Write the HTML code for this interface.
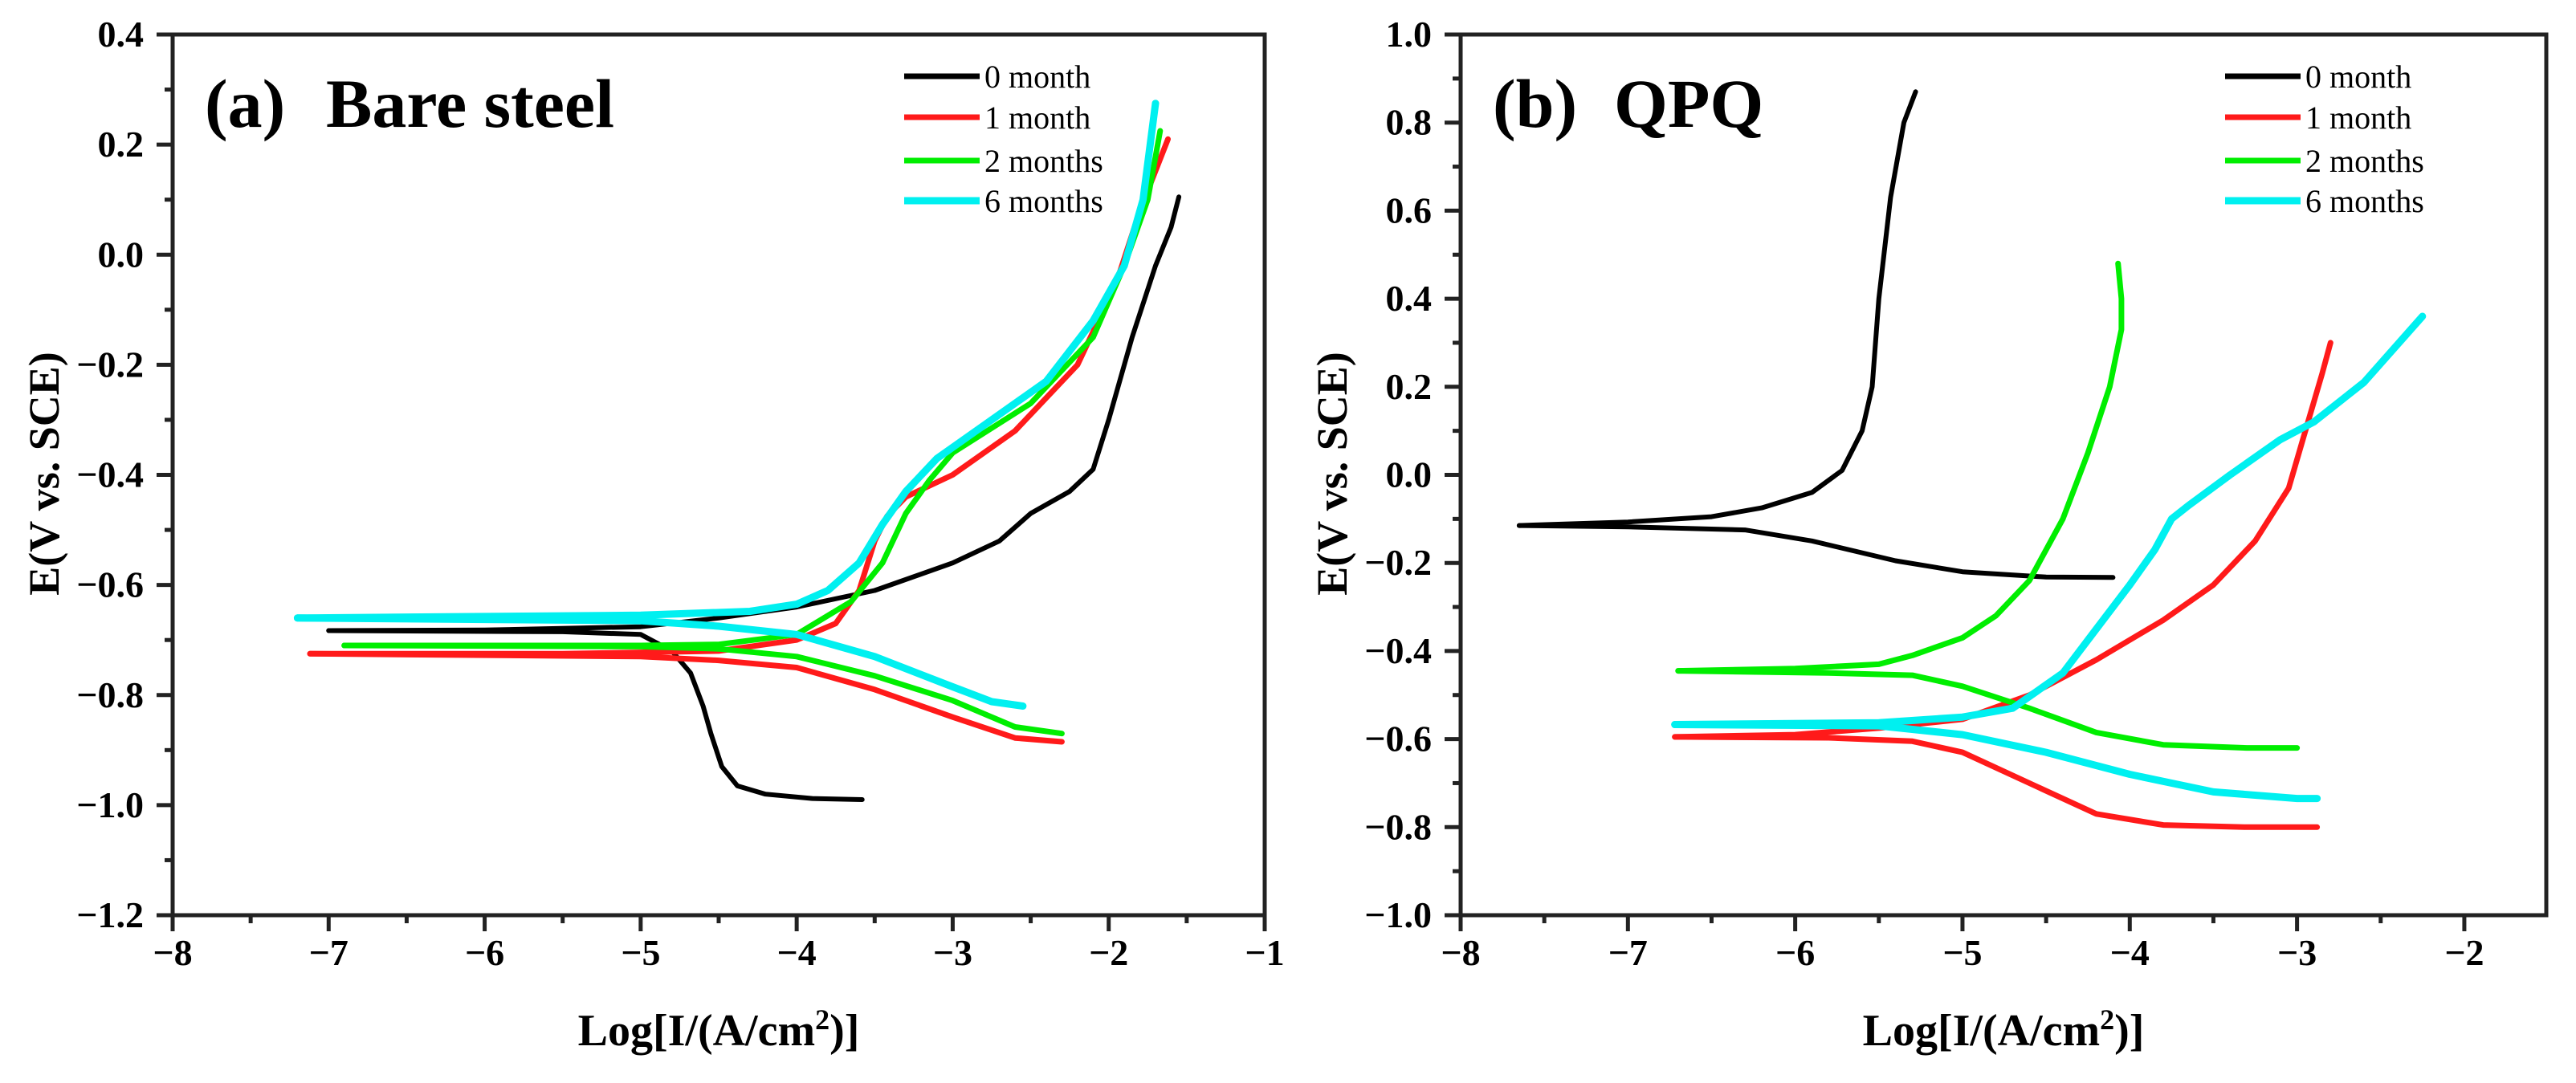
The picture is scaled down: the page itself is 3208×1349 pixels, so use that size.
<!DOCTYPE html>
<html><head><meta charset="utf-8"><style>
html,body{margin:0;padding:0;background:#fff;}
svg{display:block;}
text{font-family:"Liberation Serif",serif;font-weight:bold;fill:#000;}
</style></head><body>
<svg id="chart" width="3208" height="1349" viewBox="0 0 3208 1349" xmlns="http://www.w3.org/2000/svg"></svg>
<script>
// ---- Panel (a) Bare steel data: [logI, E] ----
const aBlackAnodic=[[-7.0,-0.683],[-6,-0.682],[-5,-0.676],[-4.5,-0.66],[-4,-0.64],[-3.5,-0.61],[-3,-0.56],[-2.7,-0.52],[-2.5,-0.47],[-2.25,-0.43],[-2.1,-0.39],[-2.0,-0.3],[-1.85,-0.15],[-1.7,-0.02],[-1.6,0.05],[-1.55,0.105]];
const aBlackCathodic=[[-7.0,-0.683],[-5.5,-0.685],[-5,-0.69],[-4.8,-0.72],[-4.68,-0.76],[-4.6,-0.82],[-4.55,-0.87],[-4.48,-0.93],[-4.38,-0.965],[-4.2,-0.98],[-3.9,-0.988],[-3.58,-0.99]];
const aRedAnodic=[[-7.12,-0.725],[-5.5,-0.725],[-4.5,-0.72],[-4,-0.70],[-3.75,-0.67],[-3.6,-0.61],[-3.5,-0.52],[-3.42,-0.475],[-3.3,-0.44],[-3,-0.40],[-2.6,-0.32],[-2.2,-0.2],[-1.95,-0.05],[-1.8,0.08],[-1.62,0.21]];
const aRedCathodic=[[-7.12,-0.725],[-5,-0.73],[-4.5,-0.737],[-4,-0.75],[-3.5,-0.79],[-3,-0.84],[-2.6,-0.878],[-2.3,-0.885]];
const aGreenAnodic=[[-6.9,-0.71],[-5,-0.71],[-4.5,-0.708],[-4,-0.69],[-3.65,-0.63],[-3.45,-0.56],[-3.3,-0.47],[-3.15,-0.41],[-3,-0.36],[-2.5,-0.27],[-2.1,-0.15],[-1.9,-0.02],[-1.75,0.1],[-1.67,0.225]];
const aGreenCathodic=[[-6.9,-0.71],[-5,-0.712],[-4.5,-0.716],[-4,-0.73],[-3.5,-0.765],[-3,-0.81],[-2.6,-0.858],[-2.3,-0.87]];
const aCyanAnodic=[[-7.2,-0.66],[-5,-0.655],[-4.3,-0.648],[-4,-0.635],[-3.8,-0.61],[-3.6,-0.56],[-3.45,-0.49],[-3.3,-0.43],[-3.1,-0.37],[-2.8,-0.31],[-2.4,-0.23],[-2.1,-0.12],[-1.9,-0.02],[-1.78,0.1],[-1.7,0.275]];
const aCyanCathodic=[[-7.2,-0.66],[-5,-0.665],[-4.5,-0.675],[-4,-0.69],[-3.5,-0.73],[-3,-0.785],[-2.75,-0.812],[-2.55,-0.82]];
// ---- Panel (b) QPQ data ----
const bBlackAnodic=[[-7.65,-0.115],[-7,-0.107],[-6.5,-0.095],[-6.2,-0.075],[-5.9,-0.04],[-5.72,0.01],[-5.6,0.1],[-5.54,0.2],[-5.5,0.4],[-5.43,0.63],[-5.35,0.8],[-5.28,0.87]];
const bBlackCathodic=[[-7.65,-0.115],[-7,-0.118],[-6.3,-0.125],[-5.9,-0.15],[-5.4,-0.195],[-5,-0.22],[-4.5,-0.232],[-4.1,-0.233]];
const bRedAnodic=[[-6.72,-0.595],[-6,-0.59],[-5.5,-0.575],[-5,-0.555],[-4.6,-0.5],[-4.2,-0.42],[-3.8,-0.33],[-3.5,-0.25],[-3.25,-0.15],[-3.05,-0.03],[-2.95,0.1],[-2.85,0.23],[-2.8,0.3]];
const bRedCathodic=[[-6.72,-0.595],[-5.8,-0.597],[-5.3,-0.605],[-5,-0.63],[-4.6,-0.7],[-4.2,-0.77],[-3.8,-0.795],[-3.3,-0.8],[-2.88,-0.8]];
const bGreenAnodic=[[-6.7,-0.445],[-6,-0.44],[-5.5,-0.43],[-5.3,-0.41],[-5,-0.37],[-4.8,-0.32],[-4.6,-0.24],[-4.4,-0.1],[-4.25,0.05],[-4.12,0.2],[-4.05,0.33],[-4.05,0.4],[-4.07,0.48]];
const bGreenCathodic=[[-6.7,-0.445],[-5.8,-0.45],[-5.3,-0.455],[-5,-0.48],[-4.6,-0.53],[-4.2,-0.585],[-3.8,-0.613],[-3.3,-0.62],[-3.0,-0.62]];
const bCyanAnodic=[[-6.72,-0.567],[-5.5,-0.563],[-5,-0.55],[-4.7,-0.53],[-4.4,-0.45],[-4.2,-0.35],[-4.0,-0.25],[-3.85,-0.17],[-3.75,-0.1],[-3.65,-0.07],[-3.4,0.0],[-3.1,0.08],[-2.9,0.12],[-2.6,0.21],[-2.25,0.36]];
const bCyanCathodic=[[-6.72,-0.567],[-5.5,-0.57],[-5,-0.59],[-4.5,-0.63],[-4,-0.68],[-3.5,-0.72],[-3,-0.735],[-2.88,-0.735]];
const seriesNames=["0 month","1 month","2 months","6 months"];
const seriesColors=["#000000","#ff1a1a","#00ee00","#00f0f0"];
const aXTicks=[-8,-7,-6,-5,-4,-3,-2,-1];
const aYTicks=[0.4,0.2,0.0,-0.2,-0.4,-0.6,-0.8,-1.0,-1.2];
const bXTicks=[-8,-7,-6,-5,-4,-3,-2];
const bYTicks=[1.0,0.8,0.6,0.4,0.2,0.0,-0.2,-0.4,-0.6,-0.8,-1.0];

const NS="http://www.w3.org/2000/svg";
const svg=document.getElementById('chart');
function mk(tag,attrs,parent){const e=document.createElementNS(NS,tag);for(const k in attrs)e.setAttribute(k,attrs[k]);(parent||svg).appendChild(e);return e;}
function fmt(v){const s=Math.abs(v).toFixed(1);return (v<0?"\u2212":"")+s;}

function panel(cfg){
  const g=mk('g',{});
  
  
  const L=cfg.left,R=cfg.right,T=43,B=1140;
  const sx=v=>L+(v-cfg.xmin)/(cfg.xmax-cfg.xmin)*(R-L);
  const sy=v=>B-(v-cfg.ymin)/(cfg.ymax-cfg.ymin)*(B-T);
  cfg.series.forEach((pair,i)=>{
    pair.forEach((arr,j)=>{
      const p=mk('polyline',{points:arr.map(d=>sx(d[0]).toFixed(1)+","+sy(d[1]).toFixed(1)).join(" "),fill:"none",stroke:seriesColors[i],"stroke-width":i===3?9:(i===0?6:7),"stroke-linejoin":"round","stroke-linecap":"round"},g);
      
      
    });
  });
  const fr=mk('rect',{x:L,y:T,width:R-L,height:B-T,fill:"none",stroke:"#222","stroke-width":5},g);
  
  
  cfg.xticks.forEach(v=>{
    const x=sx(v);
    mk('line',{x1:x,y1:B,x2:x,y2:B+20,stroke:"#222","stroke-width":5},g);
    if(v+0.5<=cfg.xmax) {const xm=sx(v+0.5);mk('line',{x1:xm,y1:B,x2:xm,y2:B+10,stroke:"#222","stroke-width":5},g);}
    const t=mk('text',{x:x,y:1202,"font-size":46,"text-anchor":"middle"},g);
    t.textContent=(v<0?"\u2212":"")+Math.abs(v);
    
    
  });
  cfg.yticks.forEach((v,k)=>{
    const y=sy(v);
    mk('line',{x1:L-20,y1:y,x2:L,y2:y,stroke:"#222","stroke-width":5},g);
    if(k<cfg.yticks.length-1){const ym=sy(v-0.1);mk('line',{x1:L-10,y1:ym,x2:L,y2:ym,stroke:"#222","stroke-width":5},g);}
    const t=mk('text',{x:L-36,y:y+15,"font-size":46,"text-anchor":"end"},g);
    t.textContent=fmt(v);
    
    
  });
  const xt=mk('text',{x:(L+R)/2,y:1302,"font-size":56,"text-anchor":"middle"},g);
  xt.innerHTML='Log[I/(A/cm<tspan dy="-20" font-size="36">2</tspan><tspan dy="20">)]</tspan>';
  
  
  const yt=mk('text',{x:0,y:0,"font-size":54,"text-anchor":"middle",transform:"translate("+(L-142)+",590) rotate(-90)"},g);
  yt.textContent="E(V vs. SCE)";
  
  
  const pl=mk('text',{x:L+40,y:158,"font-size":86},g);
  pl.textContent=cfg.label;
  
  
  const pt=mk('text',{x:L+191,y:158,"font-size":86},g);
  pt.textContent=cfg.title;
  
  
  const ys=[95,146,200,250];
  seriesNames.forEach((n,i)=>{
    const le=mk('g',{},g);
    
    
    mk('line',{x1:cfg.legX,y1:ys[i],x2:cfg.legX+94,y2:ys[i],stroke:seriesColors[i],"stroke-width":i===3?9:7},le);
    const t=mk('text',{x:cfg.legX+100,y:ys[i]+14,"font-size":40},le);
    t.style.fontWeight="normal";
    t.textContent=n;
  });
}
panel({id:"a",name:"panel-a-bare-steel",label:"(a)",title:"Bare steel",left:215,right:1575,xmin:-8,xmax:-1,ymin:-1.2,ymax:0.4,xticks:aXTicks,yticks:aYTicks,legX:1126,
  series:[[aBlackAnodic,aBlackCathodic],[aRedAnodic,aRedCathodic],[aGreenAnodic,aGreenCathodic],[aCyanAnodic,aCyanCathodic]]});
panel({id:"b",name:"panel-b-qpq",label:"(b)",title:"QPQ",left:1819,right:3171,xmin:-8,xmax:-1.51,ymin:-1.0,ymax:1.0,xticks:bXTicks,yticks:bYTicks,legX:2771,
  series:[[bBlackAnodic,bBlackCathodic],[bRedAnodic,bRedCathodic],[bGreenAnodic,bGreenCathodic],[bCyanAnodic,bCyanCathodic]]});
</script>
</body></html>
